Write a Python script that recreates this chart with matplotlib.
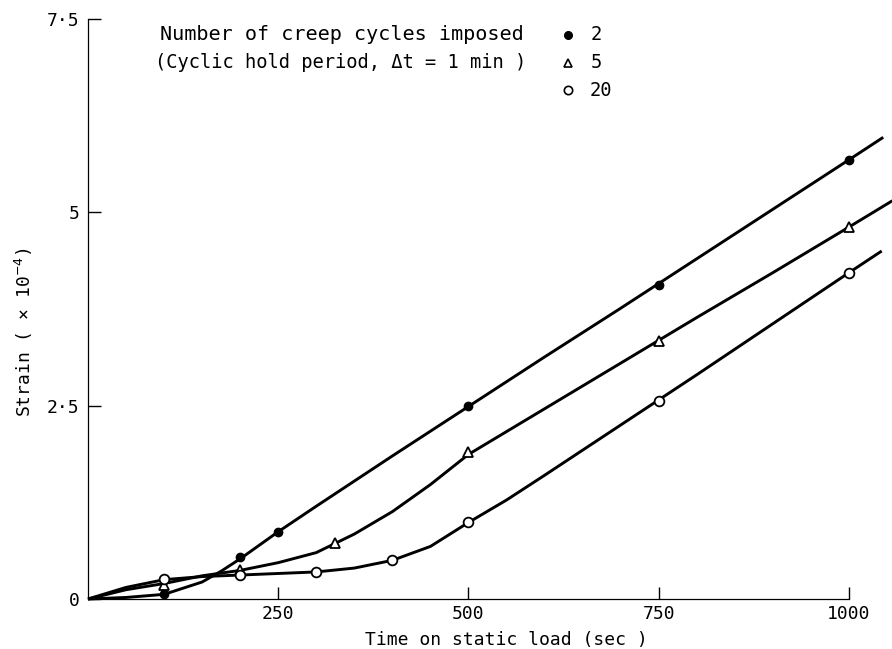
import numpy as np
import matplotlib.pyplot as plt

# measured points (time in sec, strain x 1e-4)
t2 = [100, 200, 250, 500, 750, 1000]
s2 = [0.06, 0.54, 0.87, 2.49, 4.06, 5.68]
t5 = [100, 200, 325, 500, 750, 1000]
s5 = [0.18, 0.37, 0.72, 1.90, 3.34, 4.81]
t20 = [100, 200, 300, 400, 500, 750, 1000]
s20 = [0.26, 0.31, 0.35, 0.50, 0.99, 2.56, 4.22]

# hand-drawn fitted curves
c2_t = [0, 50, 100, 150, 175, 200, 250, 300, 400, 500, 600, 700, 800, 900, 1000, 1045]
c2_s = [0, 0.02, 0.06, 0.22, 0.36, 0.52, 0.87, 1.20, 1.85, 2.49, 3.13, 3.76, 4.40, 5.04, 5.68, 5.97]
c5_t = [0, 50, 100, 150, 200, 250, 300, 350, 400, 450, 500, 600, 700, 800, 900, 1000, 1057]
c5_s = [0, 0.12, 0.20, 0.30, 0.37, 0.47, 0.60, 0.84, 1.13, 1.48, 1.87, 2.46, 3.05, 3.64, 4.22, 4.81, 5.15]
c20_t = [0, 50, 100, 150, 200, 250, 300, 350, 400, 450, 500, 550, 600, 700, 800, 900, 1000, 1043]
c20_s = [0, 0.15, 0.25, 0.29, 0.31, 0.33, 0.35, 0.40, 0.50, 0.68, 0.99, 1.28, 1.60, 2.25, 2.90, 3.56, 4.22, 4.50]

xticks = [250, 500, 750, 1000]
yticks = [0, 2.5, 5, 7.5]
ytick_labels = ['0', '2\u00b75', '5', '7\u00b75']

plt.rcParams['font.family'] = ['DejaVu Sans Mono', 'DejaVu Sans']
fs = 13

fig = plt.figure(figsize=(8.92, 6.49), dpi=100)
W, H = 892, 649
ax = fig.add_axes([88 / W, 1 - 599 / H, 761 / W, 580 / H])

lw = 2.1
for ct, cs in [(c2_t, c2_s), (c5_t, c5_s), (c20_t, c20_s)]:
    ax.plot(ct, cs, color='black', lw=lw, clip_on=False, solid_capstyle='butt')

ax.plot(t2, s2, 'o', ms=6, mfc='black', mec='black', clip_on=False, zorder=3)
ax.plot(t5, s5, '^', ms=7, mfc='white', mec='black', mew=1.3, clip_on=False, zorder=3)
ax.plot(t20, s20, 'o', ms=7, mfc='white', mec='black', mew=1.3, clip_on=False, zorder=3)

ax.set_xlim(0, 1000)
ax.set_ylim(0, 7.5)
ax.set_xticks(xticks)
ax.set_yticks(yticks)
ax.set_yticklabels(ytick_labels)
ax.tick_params(direction='in', length=9, width=1, labelsize=fs, color='black')
ax.tick_params(axis='y', pad=6)
ax.tick_params(axis='x', pad=4)
for side in ['top', 'right']:
    ax.spines[side].set_visible(False)
for side in ['left', 'bottom']:
    ax.spines[side].set_linewidth(0.9)

ax.set_xlabel('Time on static load (sec )', fontsize=fs)
ax.xaxis.set_label_coords(0.55, -0.055)
ax.set_ylabel('Strain ( \u00d7 10$^{-4}$)', fontsize=fs)
ax.yaxis.set_label_coords(-0.07, 0.46)

# key in the top-left corner
ft = fig.transFigure
fig.text(160 / W, 1 - 35 / H, 'Number of creep cycles imposed', fontsize=14.5, va='center')
fig.text(155 / W, 1 - 63 / H, '(Cyclic hold period, \u0394t = 1 min )', fontsize=13.5, va='center')
ax.plot([568 / W], [1 - 35 / H], 'o', ms=5.5, mfc='black', mec='black', transform=ft, clip_on=False)
ax.plot([568 / W], [1 - 63 / H], '^', ms=6, mfc='white', mec='black', mew=1.2, transform=ft, clip_on=False)
ax.plot([568 / W], [1 - 90 / H], 'o', ms=6, mfc='white', mec='black', mew=1.2, transform=ft, clip_on=False)
fig.text(591 / W, 1 - 35 / H, '2', fontsize=13.5, va='center')
fig.text(591 / W, 1 - 63 / H, '5', fontsize=13.5, va='center')
fig.text(590 / W, 1 - 90 / H, '20', fontsize=13.5, va='center')

fig.savefig('out.png', dpi=100)
